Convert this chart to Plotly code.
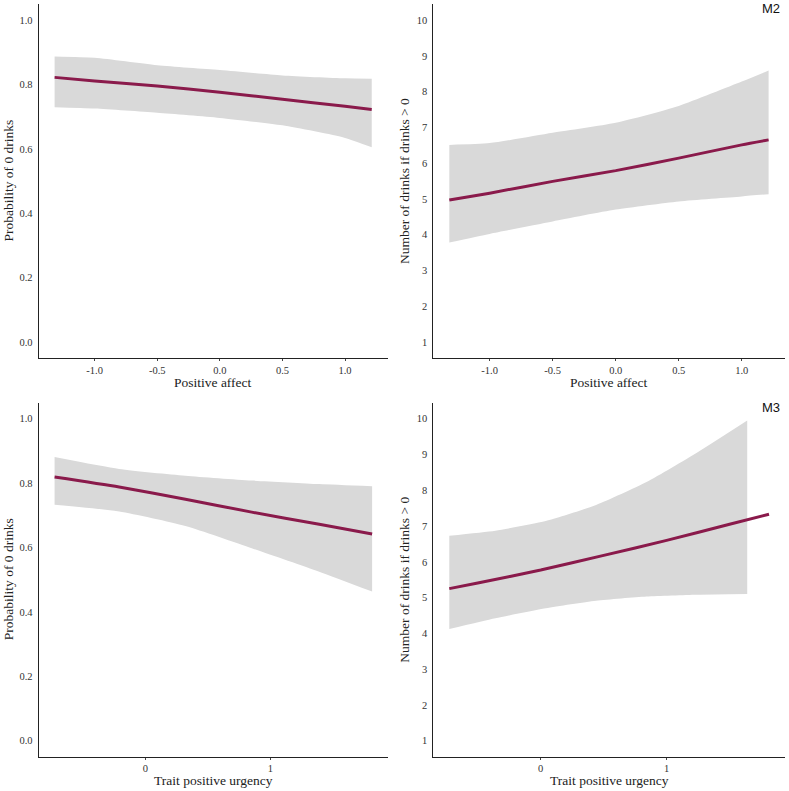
import plotly.graph_objects as go

# ---------- data ----------
# Panel 1: Positive affect -> Probability of 0 drinks
pa_x = [-1.32, -1.0, -0.5, 0.0, 0.5, 1.0, 1.213]
p1_fit = [0.822, 0.811, 0.795, 0.776, 0.754, 0.732, 0.722]
p1_hi = [0.887, 0.883, 0.860, 0.845, 0.828, 0.819, 0.818]
p1_lo = [0.729, 0.725, 0.712, 0.696, 0.673, 0.634, 0.605]

# Panel 2: Positive affect -> Number of drinks if drinks > 0
p2_fit = [4.97, 5.16, 5.49, 5.79, 6.14, 6.51, 6.65]
p2_hi = [6.51, 6.56, 6.85, 7.13, 7.60, 8.28, 8.59]
p2_lo = [3.78, 4.02, 4.37, 4.70, 4.93, 5.07, 5.13]

# Panel 3: Trait positive urgency -> Probability of 0 drinks
tu3_x = [-0.726, -0.21, 0.32, 0.85, 1.39, 1.813]
p3_fit = [0.819, 0.788, 0.750, 0.710, 0.672, 0.642]
p3_hi = [0.881, 0.844, 0.823, 0.808, 0.797, 0.790]
p3_lo = [0.733, 0.712, 0.667, 0.598, 0.525, 0.463]

# Panel 4: Trait positive urgency -> Number of drinks if drinks > 0
tu4_x = [-0.726, -0.5, 0.0, 0.5, 1.0, 1.5, 1.813]
p4_fit = [5.25, 5.41, 5.77, 6.18, 6.60, 7.05, 7.33]
tu4_band_x = [-0.726, -0.36, 0.04, 0.44, 0.84, 1.24, 1.64]
p4_hi = [6.73, 6.87, 7.14, 7.59, 8.23, 9.05, 9.95]
p4_lo = [4.12, 4.42, 4.70, 4.91, 5.03, 5.08, 5.10]

# ticks
pa_ticks = [-1.0, -0.5, 0.0, 0.5, 1.0]
pa_ticktext = ["-1.0", "-0.5", "0.0", "0.5", "1.0"]
tu_ticks = [0, 1]
tu_ticktext = ["0", "1"]
prob_ticks = [0.0, 0.2, 0.4, 0.6, 0.8, 1.0]
prob_ticktext = ["0.0", "0.2", "0.4", "0.6", "0.8", "1.0"]
num_ticks = list(range(1, 11))
num_ticktext = [str(v) for v in num_ticks]

LINE_COLOR = "#8a1a4b"
BAND_COLOR = "#d9d9d9"
W, H = 789, 791

panels = [
    dict(x=pa_x, fit=p1_fit, bx=pa_x, hi=p1_hi, lo=p1_lo, xr=[-1.447, 1.343], yr=[-0.05, 1.05],
         xt=pa_ticks, xtt=pa_ticktext, yt=prob_ticks, ytt=prob_ticktext,
         xtitle="Positive affect", ytitle="Probability of 0 drinks", tag=None),
    dict(x=pa_x, fit=p2_fit, bx=pa_x, hi=p2_hi, lo=p2_lo, xr=[-1.447, 1.343], yr=[0.55, 10.45],
         xt=pa_ticks, xtt=pa_ticktext, yt=num_ticks, ytt=num_ticktext,
         xtitle="Positive affect", ytitle="Number of drinks if drinks > 0", tag="M2"),
    dict(x=tu3_x, fit=p3_fit, bx=tu3_x, hi=p3_hi, lo=p3_lo, xr=[-0.853, 1.94], yr=[-0.05, 1.05],
         xt=tu_ticks, xtt=tu_ticktext, yt=prob_ticks, ytt=prob_ticktext,
         xtitle="Trait positive urgency", ytitle="Probability of 0 drinks", tag=None),
    dict(x=tu4_x, fit=p4_fit, bx=tu4_band_x, hi=p4_hi, lo=p4_lo, xr=[-0.853, 1.94], yr=[0.55, 10.45],
         xt=tu_ticks, xtt=tu_ticktext, yt=num_ticks, ytt=num_ticktext,
         xtitle="Trait positive urgency", ytitle="Number of drinks if drinks > 0", tag="M3"),
]

# pixel boxes in page coords (left, right, top, bottom)
boxes = [
    (38.7, 388, 4, 358),
    (433.3, 785, 4, 358),
    (38.7, 388, 402.7, 756.7),
    (433.3, 785, 402.7, 756.7),
]


def px(v):
    return v / W


def py(v):
    return 1 - v / H


fig = go.Figure()
layout = {}
annotations = []
serif = "Liberation Serif, Times New Roman, serif"

for i, (p, b) in enumerate(zip(panels, boxes)):
    n = i + 1
    xa = "x" if n == 1 else f"x{n}"
    ya = "y" if n == 1 else f"y{n}"
    l, r, t, btm = b
    fig.add_trace(go.Scatter(x=p["bx"], y=p["lo"], mode="lines", line=dict(width=0, color=BAND_COLOR, shape="spline", smoothing=0.6),
                             xaxis=xa, yaxis=ya, showlegend=False, hoverinfo="skip"))
    fig.add_trace(go.Scatter(x=p["bx"], y=p["hi"], mode="lines", line=dict(width=0, color=BAND_COLOR, shape="spline", smoothing=0.6),
                             fill="tonexty", fillcolor=BAND_COLOR,
                             xaxis=xa, yaxis=ya, showlegend=False, hoverinfo="skip"))
    fig.add_trace(go.Scatter(x=p["x"], y=p["fit"], mode="lines", line=dict(width=3, color=LINE_COLOR, shape="spline", smoothing=0.6),
                             xaxis=xa, yaxis=ya, showlegend=False))
    xkey = "xaxis" if n == 1 else f"xaxis{n}"
    ykey = "yaxis" if n == 1 else f"yaxis{n}"
    layout[xkey] = dict(domain=[px(l), px(r)], anchor=ya, range=p["xr"], tickvals=p["xt"], ticktext=p["xtt"],
                        showline=True, linecolor="#222", linewidth=1, showgrid=False, zeroline=False,
                        ticks="outside", ticklen=2, tickcolor="#444", tickwidth=1,
                        tickfont=dict(family=serif, size=10.5, color="#333"))
    layout[ykey] = dict(domain=[py(btm), py(t)], anchor=xa, range=p["yr"], tickvals=p["yt"], ticktext=p["ytt"],
                        showline=True, linecolor="#222", linewidth=1, showgrid=False, zeroline=False,
                        ticks="outside", ticklen=3, tickcolor="rgba(0,0,0,0)",
                        tickfont=dict(family=serif, size=10.5, color="#333"))
    # x title
    annotations.append(dict(text=p["xtitle"], xref="paper", yref="paper", x=px((l + r) / 2),
                            y=py(btm + 24), xanchor="center", yanchor="middle", showarrow=False,
                            font=dict(family=serif, size=13.5, color="#222")))
    # y title
    yx = 8.5 if l < 100 else 405
    annotations.append(dict(text=p["ytitle"], xref="paper", yref="paper", x=px(yx),
                            y=py((t + btm) / 2), xanchor="center", yanchor="middle", textangle=-90,
                            showarrow=False, font=dict(family=serif, size=13.5, color="#222")))
    if p["tag"]:
        annotations.append(dict(text=p["tag"], xref="paper", yref="paper", x=px(771), y=py(t + 4.5),
                                xanchor="center", yanchor="middle", showarrow=False,
                                font=dict(family="Liberation Sans, Arial, sans-serif", size=13, color="#111")))

fig.update_layout(**layout)
fig.update_layout(width=W, height=H, margin=dict(l=0, r=0, t=0, b=0),
                  plot_bgcolor="white", paper_bgcolor="white", annotations=annotations, showlegend=False)

fig.write_html("out.html", config={"displayModeBar": False},
               post_script="document.body.style.margin='0';")
